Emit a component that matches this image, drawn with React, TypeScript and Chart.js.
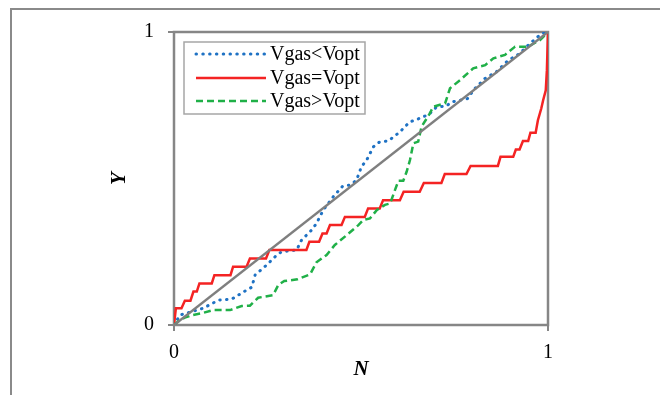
import React, { useEffect, useRef } from "react";
import { Chart, registerables } from "chart.js";

Chart.register(...registerables);

const seriesLabels = ["Vgas<Vopt", "Vgas=Vopt", "Vgas>Vopt"];

const lessX = [0, 0.016, 0.078, 0.119, 0.154, 0.194, 0.208, 0.217, 0.248, 0.275, 0.288, 0.328, 0.341, 0.368, 0.381, 0.399, 0.426, 0.451, 0.471, 0.488, 0.501, 0.515, 0.533, 0.55, 0.573, 0.604, 0.63, 0.648, 0.666, 0.684, 0.702, 0.728, 0.742, 0.786, 0.8, 0.831, 0.862, 0.893, 0.924, 0.951, 0.982, 1];
const lessY = [0, 0.034, 0.057, 0.085, 0.088, 0.119, 0.129, 0.171, 0.205, 0.239, 0.25, 0.256, 0.29, 0.324, 0.347, 0.392, 0.438, 0.474, 0.478, 0.494, 0.54, 0.5625, 0.608, 0.625, 0.628, 0.659, 0.693, 0.701, 0.71, 0.722, 0.744, 0.747, 0.761, 0.773, 0.801, 0.841, 0.864, 0.903, 0.926, 0.96, 0.994, 1];

const equalX = [0, 0.005, 0.02, 0.029, 0.044, 0.052, 0.061, 0.068, 0.101, 0.108, 0.151, 0.158, 0.194, 0.203, 0.246, 0.255, 0.354, 0.362, 0.388, 0.397, 0.408, 0.417, 0.448, 0.457, 0.51, 0.519, 0.55, 0.559, 0.604, 0.614, 0.657, 0.668, 0.715, 0.724, 0.782, 0.793, 0.866, 0.873, 0.907, 0.914, 0.924, 0.933, 0.947, 0.953, 0.967, 0.973, 0.982, 0.987, 0.994, 0.997, 1];
const equalY = [0, 0.057, 0.057, 0.083, 0.083, 0.114, 0.114, 0.142, 0.142, 0.17, 0.17, 0.199, 0.199, 0.227, 0.227, 0.256, 0.256, 0.284, 0.284, 0.3125, 0.3125, 0.341, 0.341, 0.369, 0.369, 0.398, 0.398, 0.426, 0.426, 0.4545, 0.4545, 0.485, 0.485, 0.515, 0.515, 0.543, 0.543, 0.574, 0.574, 0.599, 0.599, 0.628, 0.628, 0.656, 0.656, 0.699, 0.739, 0.767, 0.801, 0.869, 1];

const greaterX = [0, 0.016, 0.029, 0.05, 0.074, 0.105, 0.15, 0.181, 0.203, 0.225, 0.265, 0.279, 0.295, 0.33, 0.364, 0.381, 0.408, 0.43, 0.462, 0.493, 0.506, 0.524, 0.542, 0.564, 0.578, 0.591, 0.6, 0.613, 0.622, 0.631, 0.64, 0.653, 0.662, 0.684, 0.693, 0.725, 0.738, 0.765, 0.8, 0.832, 0.854, 0.885, 0.912, 0.947, 0.979, 1];
const greaterY = [0, 0.017, 0.025, 0.034, 0.04, 0.051, 0.051, 0.065, 0.066, 0.093, 0.102, 0.137, 0.15, 0.156, 0.173, 0.214, 0.239, 0.273, 0.307, 0.341, 0.358, 0.364, 0.392, 0.41, 0.415, 0.461, 0.492, 0.492, 0.523, 0.563, 0.62, 0.626, 0.677, 0.722, 0.745, 0.757, 0.808, 0.836, 0.876, 0.887, 0.91, 0.922, 0.95, 0.95, 0.973, 1];

const diagX = [0, 1];
const diagY = [0, 1];

const xTicks = [0, 1];
const yTicks = [0, 1];

const pts = (xs: number[], ys: number[]) => xs.map((x, i) => ({ x, y: ys[i] }));

const GRAY = "#868686";
const FONT = "'Liberation Serif', 'DejaVu Serif', serif";

const framePlugin = {
  id: "frame",
  beforeDraw(chart: any) {
    const ctx = chart.ctx;
    ctx.save();
    ctx.fillStyle = "#fff";
    ctx.fillRect(0, 0, chart.width, chart.height);
    ctx.strokeStyle = "#8a8a8a";
    ctx.lineWidth = 2;
    ctx.beginPath();
    ctx.moveTo(11, chart.height + 2);
    ctx.lineTo(11, 9);
    ctx.lineTo(chart.width + 2, 9);
    ctx.stroke();
    ctx.restore();
  },
  beforeDatasetsDraw(chart: any) {
    const { ctx, chartArea: a } = chart;
    ctx.save();
    ctx.strokeStyle = GRAY;
    ctx.lineWidth = 2.5;
    ctx.strokeRect(a.left, a.top, a.right - a.left, a.bottom - a.top);
    ctx.restore();
  },
};

const legendPlugin = {
  id: "insideLegend",
  afterDatasetsDraw(chart: any) {
    const { ctx, chartArea: a } = chart;
    const items = chart.data.datasets.filter((d: any) => d.label);
    const bx = a.left + 10;
    const by = a.top + 10;
    const bw = 181;
    const bh = 72;
    ctx.save();
    ctx.fillStyle = "#fff";
    ctx.fillRect(bx, by, bw, bh);
    ctx.strokeStyle = "#a6a6a6";
    ctx.lineWidth = 1.5;
    ctx.strokeRect(bx, by, bw, bh);
    const rows = [12, 36, 59];
    items.forEach((d: any, i: number) => {
      const y = by + rows[i];
      ctx.beginPath();
      ctx.strokeStyle = d.borderColor;
      ctx.lineWidth = d.borderWidth;
      ctx.lineCap = d.borderCapStyle || "butt";
      ctx.setLineDash(d.borderDash || []);
      ctx.moveTo(bx + 12, y);
      ctx.lineTo(bx + 82, y);
      ctx.stroke();
      ctx.setLineDash([]);
      ctx.fillStyle = "#000";
      ctx.font = `20px ${FONT}`;
      ctx.textBaseline = "middle";
      ctx.textAlign = "left";
      ctx.fillText(d.label, bx + 86, y + 1);
    });
    ctx.restore();
  },
};

export default function App() {
  const ref = useRef<HTMLCanvasElement>(null);
  useEffect(() => {
    if (!ref.current) return;
    const chart = new Chart(ref.current, {
      type: "scatter",
      data: {
        datasets: [
          {
            label: seriesLabels[0],
            data: pts(lessX, lessY),
            showLine: true,
            borderColor: "#1f72c4",
            borderWidth: 3,
            borderDash: [0.5, 6.3],
            borderCapStyle: "round",
            pointRadius: 0,
            order: 3,
          },
          {
            label: seriesLabels[1],
            data: pts(equalX, equalY),
            showLine: true,
            borderColor: "#f42323",
            borderWidth: 2.5,
            pointRadius: 0,
            order: 2,
          },
          {
            label: seriesLabels[2],
            data: pts(greaterX, greaterY),
            showLine: true,
            borderColor: "#20b048",
            borderWidth: 2.5,
            borderDash: [7, 4],
            pointRadius: 0,
            order: 1,
          },
          {
            data: pts(diagX, diagY),
            showLine: true,
            borderColor: "#7f7f7f",
            borderWidth: 2.5,
            pointRadius: 0,
            order: 0,
          } as any,
        ],
      },
      options: {
        animation: false,
        responsive: false,
        layout: { padding: { top: 32, right: 112, left: 0, bottom: 0 } },
        plugins: { legend: { display: false }, tooltip: { enabled: false } },
        scales: {
          x: {
            type: "linear",
            min: 0,
            max: 1,
            afterBuildTicks: (s: any) => {
              s.ticks = xTicks.map((v) => ({ value: v }));
            },
            afterFit: (s: any) => {
              s.height = 70;
            },
            ticks: { color: "#000", font: { family: FONT, size: 20 }, padding: 10 },
            grid: { drawOnChartArea: false, drawTicks: true, tickLength: 6, color: GRAY, lineWidth: 2 },
            border: { display: false },
            title: {
              display: true,
              text: "N",
              color: "#000",
              font: { family: FONT, size: 21, style: "italic", weight: "bold" },
              padding: { top: 0, bottom: 13 },
            },
          },
          y: {
            type: "linear",
            min: 0,
            max: 1,
            afterBuildTicks: (s: any) => {
              s.ticks = yTicks.map((v) => ({ value: v }));
            },
            afterFit: (s: any) => {
              s.width = 174;
            },
            ticks: { color: "#000", font: { family: FONT, size: 20 }, padding: 14 },
            grid: { drawOnChartArea: false, drawTicks: true, tickLength: 6, color: GRAY, lineWidth: 2 },
            border: { display: false },
            title: {
              display: true,
              text: "Y",
              color: "#000",
              font: { family: FONT, size: 21, style: "italic", weight: "bold" },
              padding: { top: 107, bottom: 0 },
            },
          },
        },
      },
      plugins: [framePlugin, legendPlugin],
    } as any);
    return () => chart.destroy();
  }, []);
  return (
    <div style={{ position: "fixed", left: 0, top: 0, width: 660, height: 395 }}>
      <canvas ref={ref} width={660} height={395} style={{ display: "block" }} />
    </div>
  );
}
